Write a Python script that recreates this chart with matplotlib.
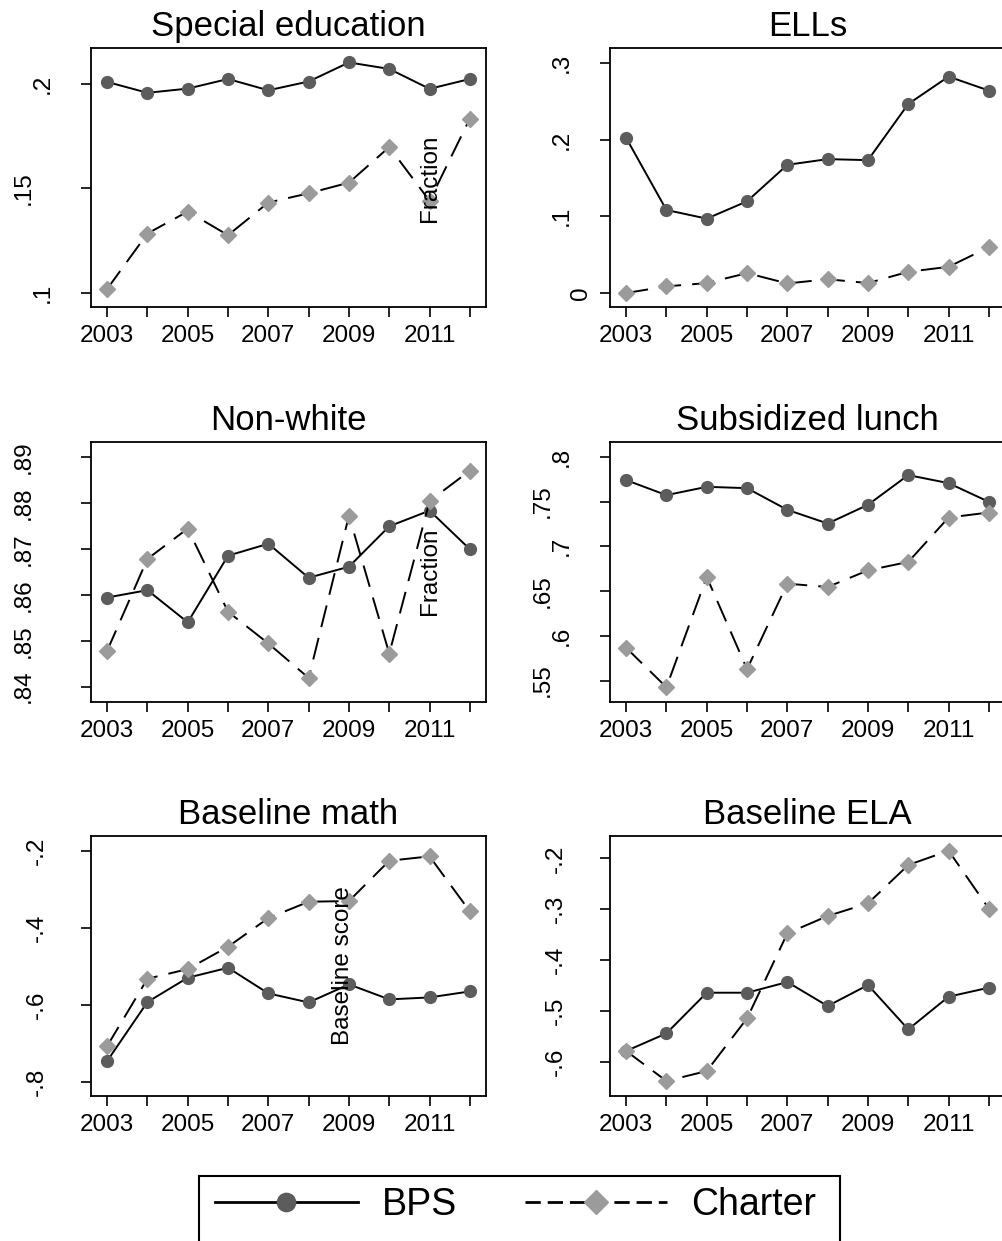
import matplotlib
matplotlib.use("Agg")
import matplotlib.pyplot as plt
from matplotlib.lines import Line2D
from matplotlib.patches import Rectangle
from matplotlib.transforms import ScaledTranslation

plt.rcParams['font.family'] = ['Liberation Sans', 'DejaVu Sans']
plt.rcParams['lines.scale_dashes'] = False

years = [2003, 2004, 2005, 2006, 2007, 2008, 2009, 2010, 2011, 2012]
year_labels = ['2003', '', '2005', '', '2007', '', '2009', '', '2011', '']

titles = ['Special education', 'ELLs', 'Non-white', 'Subsidized lunch',
          'Baseline math', 'Baseline ELA']

sped_bps = [.2008, .1956, .1976, .2022, .1968, .2010, .2101, .2070, .1975, .2022]
sped_ch = [.1019, .1284, .1389, .1276, .1432, .1476, .1527, .1697, .1440, .1833]
ell_bps = [.2023, .1083, .0970, .1196, .1672, .1746, .1733, .2465, .2822, .2640]
ell_ch = [0.0, .0087, .0130, .0260, .0125, .0180, .0130, .0277, .0342, .0598]
nw_bps = [.8594, .8610, .8540, .8685, .8711, .8637, .8661, .8749, .8783, .8699]
nw_ch = [.8478, .8678, .8744, .8563, .8494, .8419, .8772, .8472, .8804, .8870]
lunch_bps = [.7739, .7571, .7664, .7649, .7407, .7254, .7463, .7795, .7705, .7496]
lunch_ch = [.5866, .5425, .6657, .5627, .6582, .6545, .6731, .6825, .7321, .7377]
math_bps = [-.7463, -.5930, -.5299, -.5039, -.5706, -.5940, -.5472, -.5861, -.5810, -.5654]
math_ch = [-.7074, -.5325, -.5074, -.4494, -.3749, -.3325, -.3307, -.2260, -.2147, -.3576]
ela_bps = [-.5790, -.5443, -.4643, -.4643, -.4433, -.4905, -.4492, -.5364, -.4721, -.4544]
ela_ch = [-.5790, -.6380, -.6184, -.5148, -.3475, -.3134, -.2885, -.2131, -.1849, -.2990]

bps_series = [sped_bps, ell_bps, nw_bps, lunch_bps, math_bps, ela_bps]
ch_series = [sped_ch, ell_ch, nw_ch, lunch_ch, math_ch, ela_ch]

yticks = [[.1, .15, .2], [0, .1, .2, .3], [.84, .85, .86, .87, .88, .89],
          [.55, .6, .65, .7, .75, .8], [-.8, -.6, -.4, -.2], [-.6, -.5, -.4, -.3, -.2]]
ytick_labels = [['.1', '.15', '.2'], ['0', '.1', '.2', '.3'],
                ['.84', '.85', '.86', '.87', '.88', '.89'],
                ['.55', '.6', '.65', '.7', '.75', '.8'],
                ['-.8', '-.6', '-.4', '-.2'], ['-.6', '-.5', '-.4', '-.3', '-.2']]
ylims = [(.0933, .217), (-.0182, .3195), (.8366, .8933), (.5257, .8168),
         (-.837, -.161), (-.6675, -.1554)]

side_labels = ['Fraction', 'Fraction', 'Baseline score']

W, H = 1002, 1241
fig = plt.figure(figsize=(W / 100, H / 100), dpi=100)

col_left = [91, 610]
ax_w = 395
rows = [(48, 307), (441.7, 702.3), (835.7, 1096)]

bps_color = '#5c5c5c'
ch_color = '#9b9b9b'
fs = 17.5


def label_width(s):
    # Stata-ish horizontal offset of rotated y labels
    return 19 * sum(c.isdigit() for c in s) + 20 * s.count('.') + 6 * s.count('-')


for i in range(6):
    r, c = divmod(i, 2)
    top, bot = rows[r]
    ax = fig.add_axes([col_left[c] / W, 1 - bot / H, ax_w / W, (bot - top) / H])
    ax.plot(years, bps_series[i], color='black', lw=1.4, marker='o', ms=8.5,
            mfc=bps_color, mec=bps_color, zorder=3)
    ax.plot(years, ch_series[i], color='black', lw=1.4, dashes=(16, 8),
            marker='D', ms=8, mfc=ch_color, mec=ch_color, zorder=3)
    ax.set_xlim(2002.6, 2012.4)
    ax.set_ylim(*ylims[i])
    ax.set_xticks(years)
    ax.set_xticklabels(year_labels, fontsize=fs)
    ax.set_yticks(yticks[i])
    ax.tick_params(axis='y', labelleft=False, length=7, width=1.2)
    ax.tick_params(axis='x', length=7, width=1.2, pad=6)
    for sp in ax.spines.values():
        sp.set_linewidth(1.3)
    ax.set_title(titles[i], fontsize=25, pad=8.5)
    for v, lab in zip(yticks[i], ytick_labels[i]):
        dx = -(1 + label_width(lab) + 8.5) / 100
        tr = ax.get_yaxis_transform() + ScaledTranslation(dx, 0, fig.dpi_scale_trans)
        ax.text(0, v, lab, transform=tr, rotation=90, ha='center', va='center',
                fontsize=fs, clip_on=False)

# stray y-axis titles of the right-hand panels
side_pos = [(430, 178), (430, 571), (343, 966)]
for lab, (px, py) in zip(side_labels, side_pos):
    fig.text(px / W, 1 - py / H, lab, rotation=90, ha='center', va='center',
             fontsize=fs, zorder=10)

# legend
handles = [Line2D([], [], color='black', lw=2, marker='o', ms=8.5,
                  mfc=bps_color, mec=bps_color),
           Line2D([], [], color='black', lw=2, dashes=(11, 5), marker='D',
                  ms=8, mfc=ch_color, mec=ch_color)]
fig.legend(handles, ['BPS', 'Charter'], loc='center left', ncol=2, frameon=False,
           bbox_to_anchor=(215 / W, 1 - 1205 / H), fontsize=27, handlelength=3.8,
           handletextpad=0.65, columnspacing=1.8, markerscale=1.55, borderpad=0,
           borderaxespad=0)
fig.patches.append(Rectangle((199 / W, -0.05), (840 - 199) / W, 0.05 + (1 - 1176 / H),
                             transform=fig.transFigure, fill=False, lw=1.5,
                             edgecolor='black', clip_on=False))

fig.savefig('out.png', dpi=100)
